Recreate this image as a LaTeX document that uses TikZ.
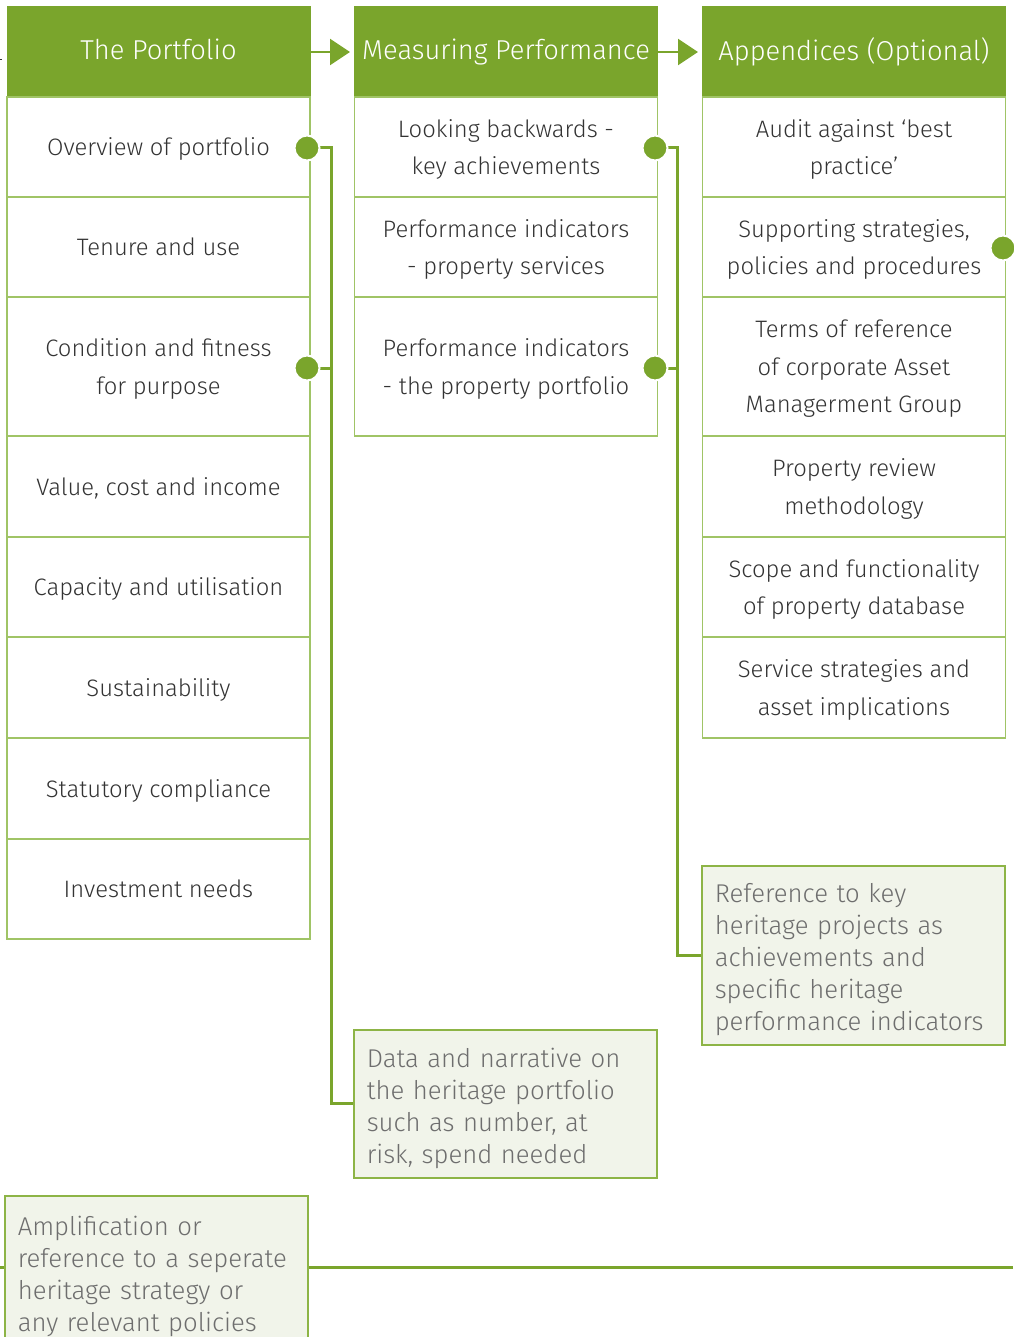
\documentclass[tikz,border=0pt]{standalone}
\usepackage{fontspec}
\setmainfont{Fira Sans Light}
\usetikzlibrary{arrows.meta,calc}
\definecolor{hgreen}{HTML}{7AA52C}
\definecolor{cgreen}{HTML}{A0C466}
\definecolor{ngreen}{HTML}{8DB446}
\definecolor{nfill}{HTML}{F1F4EA}
\definecolor{txt}{HTML}{333333}
\definecolor{ntxt}{HTML}{6E6E6E}
\tikzset{
 hdr/.style={fill=hgreen,draw=hgreen,line width=1pt,minimum width=303pt,minimum height=90pt,inner sep=0pt,text=white,text depth=6pt,font=\fontsize{27.3}{30}\selectfont},
 cell/.style={draw=cgreen,line width=1.5pt,fill=white,minimum width=303pt,inner sep=0pt,align=center,text=txt,text depth=0pt,font=\fontsize{23.8}{37.5}\selectfont},
 note/.style={draw=ngreen,fill=nfill,line width=1.5pt,minimum width=303pt,text width=277pt,inner xsep=13pt,inner ysep=4pt,align=left,text=ntxt,anchor=north west,execute at begin node={\rule{0pt}{28pt}},font=\fontsize{25.7}{32}\selectfont},
 dot/.style={circle,fill=hgreen,draw=white,line width=2pt,minimum size=25pt,inner sep=0pt},
 conn/.style={draw=hgreen,line width=3pt},
 harrow/.style={draw=hgreen,line width=2.5pt,shorten >=4pt,-{Triangle[length=20pt,width=26pt]}}
}
\begin{document}
\begin{tikzpicture}[x=1pt,y=-1pt]
\useasboundingbox[fill=white] (0,0) rectangle (1013,1337);
% column 1
\node[hdr] (h1) at (158.5,52) {The Portfolio};
\node[cell,minimum height=100pt] (a1) at (158.5,147) {Overview of portfolio};
\node[cell,minimum height=100pt] (a2) at (158.5,247) {Tenure and use};
\node[cell,minimum height=139pt] (a3) at (158.5,366.5) {Condition and fitness\\for purpose};
\node[cell,minimum height=101pt] (a4) at (158.5,486.5) {Value, cost and income};
\node[cell,minimum height=100pt] (a5) at (158.5,587) {Capacity and utilisation};
\node[cell,minimum height=101pt] (a6) at (158.5,687.5) {Sustainability};
\node[cell,minimum height=101pt] (a7) at (158.5,788.5) {Statutory compliance};
\node[cell,minimum height=100pt] (a8) at (158.5,889) {Investment needs};
% column 2
\node[hdr] (h2) at (506,52) {Measuring Performance};
\node[cell,minimum height=100pt] (b1) at (506,147) {Looking backwards -\\key achievements};
\node[cell,minimum height=100pt] (b2) at (506,247) {Performance indicators\\- property services};
\node[cell,minimum height=139pt] (b3) at (506,366.5) {Performance indicators\\- the property portfolio};
% column 3
\node[hdr] (h3) at (854,52) {Appendices (Optional)};
\node[cell,minimum height=100pt] (c1) at (854,147) {Audit against ‘best\\practice’};
\node[cell,minimum height=100pt] (c2) at (854,247) {Supporting strategies,\\policies and procedures};
\node[cell,minimum height=139pt] (c3) at (854,366.5) {Terms of reference\\of corporate Asset\\Managerment Group};
\node[cell,minimum height=101pt] (c4) at (854,486.5) {Property review\\methodology};
\node[cell,minimum height=100pt] (c5) at (854,587) {Scope and functionality\\of property database};
\node[cell,minimum height=101pt] (c6) at (854,687.5) {Service strategies and\\asset implications};
% notes
\node[note,minimum height=148pt] (n1) at (353,1029) {Data and narrative on\\the heritage portfolio\\such as number, at\\risk, spend needed};
\node[note,minimum height=179pt] (n2) at (701,865) {Reference to key\\heritage projects as\\achievements and\\specific heritage\\performance indicators};
\node[note,minimum height=152pt] (n3) at (4,1195) {Amplification or\\reference to a seperate\\heritage strategy or\\any relevant policies};
% header arrows
\draw[harrow] (h1.east) -- (h2.west);
\draw[harrow] (h2.east) -- (h3.west);
% connectors
\coordinate (j1) at ($(n1.west)+(-22,0)$);
\coordinate (j2) at ($(n2.west)+(-24,0)$);
\coordinate (p1) at (307,148);
\coordinate (p2) at (307,368);
\coordinate (p3) at (655,148);
\coordinate (p4) at (655,368);
\draw[conn] (p1) -| (j1) -- (n1.west);
\draw[conn] (p2) -- (p2 -| j1);
\draw[conn] (p3) -| (j2) -- (n2.west);
\draw[conn] (p4) -- (p4 -| j2);
% dots
\node[dot] (d1) at (p1) {};
\node[dot] (d2) at (p2) {};
\node[dot] (d3) at (p3) {};
\node[dot] (d4) at (p4) {};
\node[dot] (d5) at (1003,248) {};
\coordinate (eL) at (0,1267);
\coordinate (eR) at (1013,1267);
\draw[conn] (eL) -- (eL -| n3.west);
\draw[conn] (eR) -- (eR -| n3.east);
\coordinate (t0) at (0,60);
\coordinate (t1) at (2,60);
\draw[txt,line width=1pt] (t0) -- (t1);
\end{tikzpicture}
\end{document}
